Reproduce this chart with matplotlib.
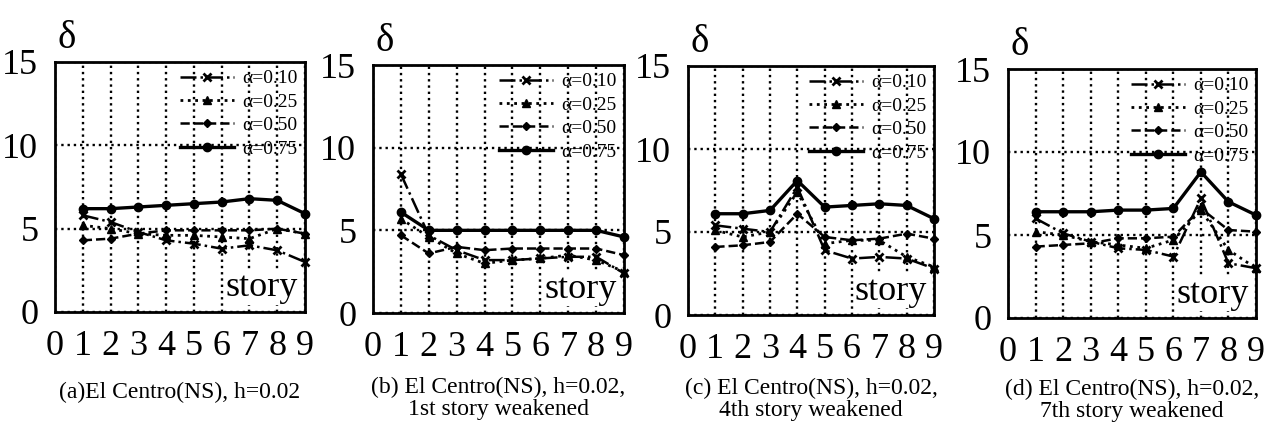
import matplotlib
matplotlib.use("Agg")
import matplotlib.pyplot as plt

plt.rcParams['font.family'] = ['Liberation Serif', 'DejaVu Serif']

stories = [1, 2, 3, 4, 5, 6, 7, 8, 9]
alphas = ['α=0.10', 'α=0.25', 'α=0.50', 'α=0.75']

# (a) El Centro, uniform
a10 = [5.8, 5.4, 4.8, 4.3, 4.1, 3.8, 4.0, 3.7, 3.0]
a25 = [5.2, 5.0, 4.7, 4.6, 4.6, 4.5, 4.4, 5.0, 4.7]
a50 = [4.3, 4.4, 4.7, 4.9, 4.9, 4.9, 4.9, 5.0, 4.7]
a75 = [6.2, 6.2, 6.3, 6.4, 6.5, 6.6, 6.8, 6.7, 5.9]

# (b) 1st story weakened
b10 = [8.4, 4.7, 3.8, 3.2, 3.2, 3.3, 3.4, 3.4, 2.4]
b25 = [5.7, 4.6, 3.6, 3.0, 3.2, 3.3, 3.5, 3.2, 2.5]
b50 = [4.7, 3.6, 4.0, 3.8, 3.9, 3.9, 3.9, 3.9, 3.5]
b75 = [6.1, 5.0, 5.0, 5.0, 5.0, 5.0, 5.0, 5.0, 4.6]

# (c) 4th story weakened
c10 = [5.4, 5.2, 5.0, 7.7, 3.9, 3.4, 3.5, 3.4, 2.8]
c25 = [5.1, 4.7, 5.0, 7.4, 4.3, 4.5, 4.5, 3.5, 2.9]
c50 = [4.1, 4.2, 4.4, 6.1, 4.7, 4.5, 4.6, 4.9, 4.6]
c75 = [6.1, 6.1, 6.3, 8.1, 6.5, 6.6, 6.7, 6.6, 5.8]

# (d) 7th story weakened
d10 = [6.0, 5.1, 4.6, 4.2, 4.1, 3.7, 7.2, 3.3, 3.0]
d25 = [5.2, 5.0, 4.6, 4.4, 4.2, 4.7, 6.5, 4.1, 3.0]
d50 = [4.3, 4.4, 4.5, 4.8, 4.8, 4.9, 6.6, 5.3, 5.2]
d75 = [6.4, 6.4, 6.4, 6.5, 6.5, 6.6, 8.8, 7.0, 6.2]

captions = ['(a)El Centro(NS), h=0.02',
            '(b) El Centro(NS), h=0.02,\n1st story weakened',
            '(c) El Centro(NS), h=0.02,\n4th story weakened',
            '(d) El Centro(NS), h=0.02,\n7th story weakened']
panels = [[a10, a25, a50, a75], [b10, b25, b50, b75],
          [c10, c25, c50, c75], [d10, d25, d50, d75]]

# axes boxes in pixels: left, right, top, bottom
boxes = [(55, 305, 62, 312), (373, 624, 65, 313),
         (688, 934, 66, 315), (1008, 1256, 69, 318)]
cap_top = [382, 377, 378, 379]

styles = [dict(ls='-.', marker='x', ms=6, mew=2, lw=1.8),
          dict(ls=':', marker='^', ms=6, lw=2.0),
          dict(ls='--', marker='D', ms=4.5, lw=1.8),
          dict(ls='-', marker='o', ms=6, lw=2.4)]

W, H = 1265, 426
fig = plt.figure(figsize=(W / 100, H / 100), dpi=100)

for (l, r, t, b), series, cap, ct in zip(boxes, panels, captions, cap_top):
    ax = fig.add_axes([l / W, (H - b) / H, (r - l) / W, (b - t) / H])
    ax.set_xlim(0, 9)
    ax.set_ylim(0, 15)
    ax.set_xticks(range(10))
    ax.set_yticks([0, 5, 10, 15])
    ax.tick_params(length=0)
    ax.tick_params(axis='x', pad=13, labelsize=26)
    ax.tick_params(axis='y', pad=12, labelsize=26)
    ax.grid(True, ls=':', color='black', lw=1.7)
    for s in ax.spines.values():
        s.set_linewidth(2)
    for vals, lab, st in zip(series, alphas, styles):
        ax.plot(stories, vals, color='black', label=lab, clip_on=False, **st)
    ax.legend(loc='upper right', frameon=False, fontsize=14,
              handlelength=2.8, labelspacing=0.3, borderaxespad=0.1,
              borderpad=0.3, handletextpad=0.4)
    ax.text(0.97, 0.03, 'story', transform=ax.transAxes, ha='right',
            va='bottom', fontsize=26,
            bbox=dict(facecolor='white', edgecolor='none', pad=0))
    ax.text(0.01, 1.02, 'δ', transform=ax.transAxes, ha='left',
            va='bottom', fontsize=28)
    fig.text((l + r) / 2 / W, (H - ct) / H, cap, ha='center', va='top',
             fontsize=17, linespacing=1.05)

fig.savefig('out.png', dpi=100)
